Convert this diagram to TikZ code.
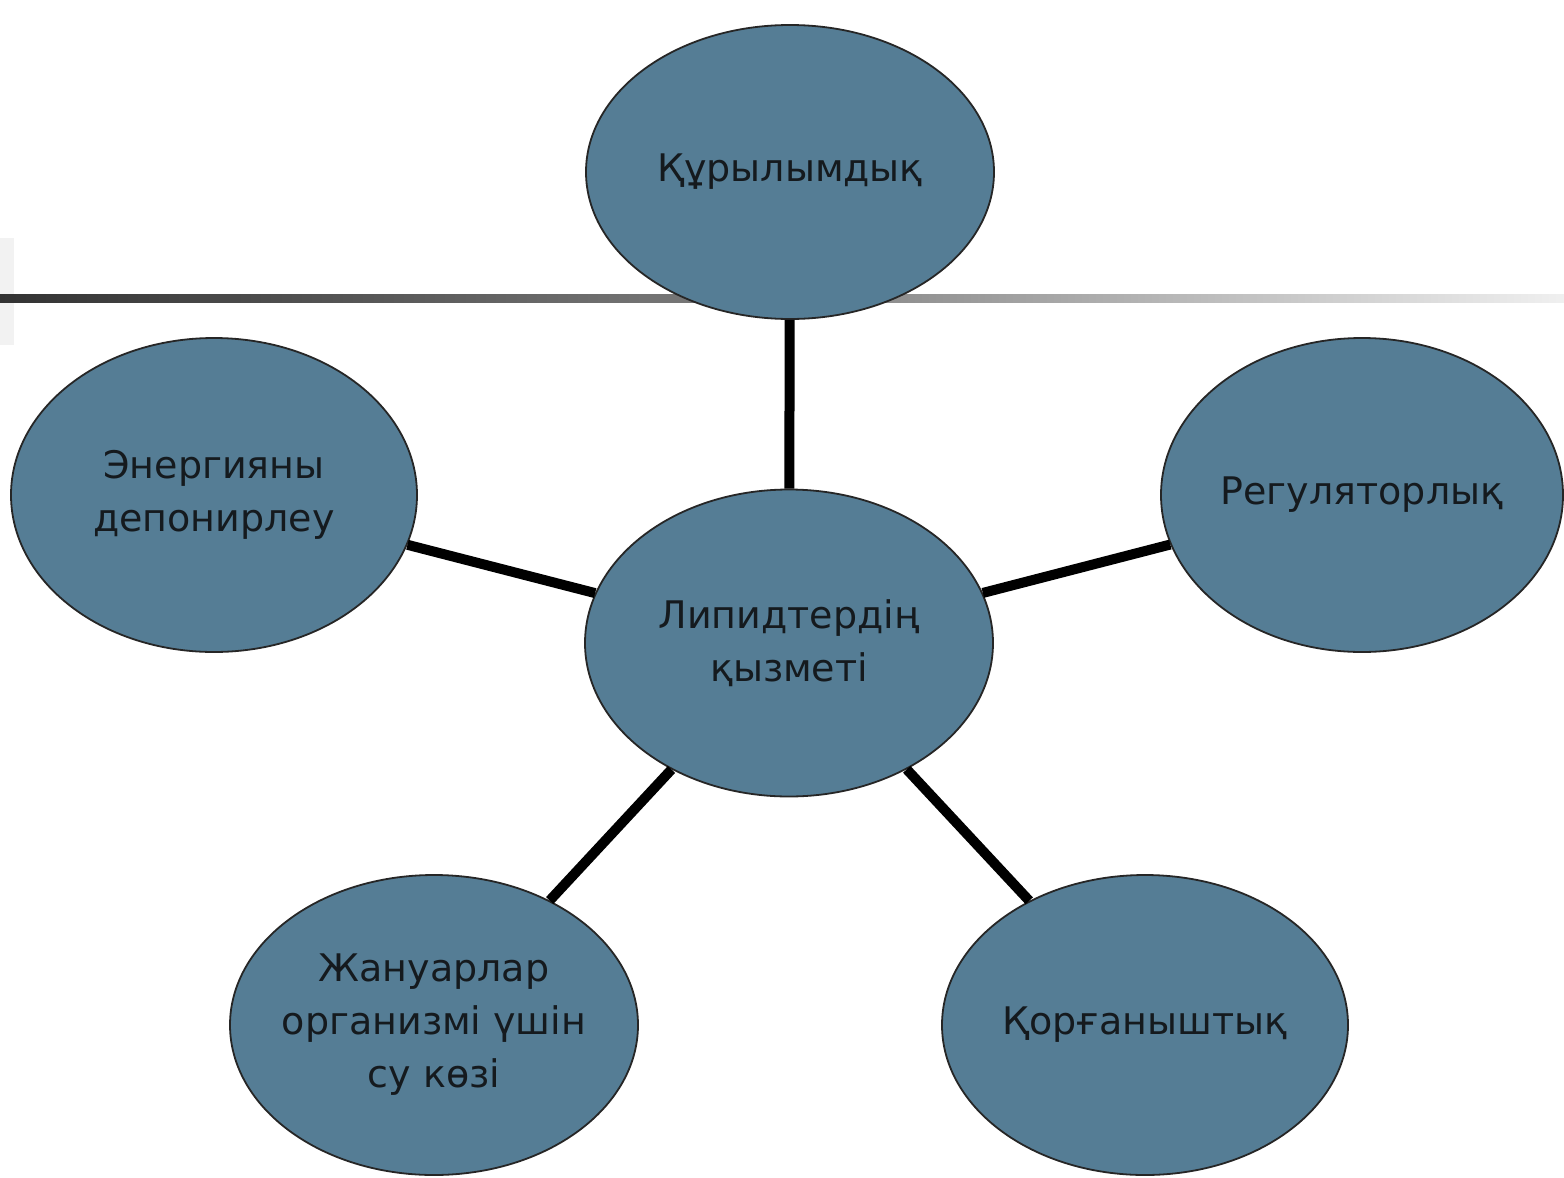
\documentclass[tikz,border=0pt]{standalone}
\usepackage{fontspec}
\setmainfont{DejaVu Sans}
\usetikzlibrary{shapes.geometric}
\definecolor{fillc}{HTML}{557D95}
\definecolor{txtc}{HTML}{151A1E}
\begin{document}
\begin{tikzpicture}[x=1pt,y=-1pt,
  bub/.style={ellipse, draw=black!85, line width=1.8pt, fill=fillc, inner sep=-30pt,
    align=center, font=\fontsize{38}{53}\selectfont, text=txtc},
  conn/.style={line width=10pt, draw=black}]
\useasboundingbox[fill=white] (0,0) rectangle (1564,1178);
% faint strip and gradient rule
\fill[black!5] (0,238) rectangle (14,345);
\shade[left color=black!80, right color=black!6, middle color=black!50] (0,294) rectangle (1564,302);
% bubbles
\node[bub, minimum width=408pt, minimum height=294pt] (top) at (790,172) {Құрылымдық};
\node[bub, minimum width=406pt, minimum height=314pt] (left) at (214,495) {Энергияны\\депонирлеу};
\node[bub, minimum width=402pt, minimum height=314pt] (right) at (1362,495) {Регуляторлық};
\node[bub, minimum width=408pt, minimum height=307pt] (c) at (789,643) {Липидтердің\\қызметі};
\node[bub, minimum width=408pt, minimum height=300pt] (bl) at (434,1025) {Жануарлар\\организмі үшін\\су көзі};
\node[bub, minimum width=406pt, minimum height=300pt] (br) at (1145,1025) {Қорғаныштық};
% connectors
\draw[conn] (c) -- (top);
\draw[conn] (c) -- (left);
\draw[conn] (c) -- (right);
\draw[conn] (c) -- (bl);
\draw[conn] (c) -- (br);
\end{tikzpicture}
\end{document}
